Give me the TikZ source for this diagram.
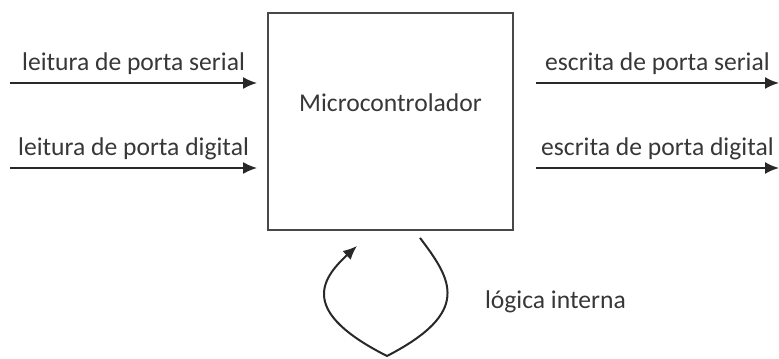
\documentclass[tikz,border=0pt]{standalone}
\usepackage{fontspec}
\setmainfont{Carlito}
\usetikzlibrary{arrows.meta}
\definecolor{linegrey}{RGB}{40, 40, 40}
\definecolor{textgrey}{RGB}{55, 55, 55}

\tikzset{
  sig/.style={line width=1pt, draw=linegrey, -{Latex[length=7pt, width=6pt]}},
  txt/.style={text=textgrey, font=\fontsize{12.8}{15}\selectfont},
  siglabel/.style={txt, above=2.5pt, midway, inner sep=1pt},
  mcubox/.style={draw=linegrey!85, line width=0.9pt, minimum width=122.5pt, minimum height=108.5pt}
}

\begin{document}
\begin{tikzpicture}[x=0.5pt, y=-0.5pt]
        \useasboundingbox (0,0) rectangle (779,358);

        \node[mcubox] (mcu) at (390.5,121.5) {};
        \node[txt] (mcutxt) at (390.5,103) {Microcontrolador};

        % inputs
        \coordinate (inS) at (10,83);
        \coordinate (inD) at (10,168);
        \draw[sig] (inS) -- ([xshift=-5pt]mcu.west |- inS)
          node[siglabel] {leitura de porta serial};
        \draw[sig] (inD) -- ([xshift=-5pt]mcu.west |- inD)
          node[siglabel] {leitura de porta digital};

        % outputs
        \coordinate (outS) at (779,83);
        \coordinate (outD) at (779,168);
        \draw[sig] ([xshift=11pt]mcu.east |- outS) -- (outS)
          node[siglabel] {escrita de porta serial};
        \draw[sig] ([xshift=11pt]mcu.east |- outD) -- (outD)
          node[siglabel] {escrita de porta digital};

        % feedback loop
        \coordinate (loopA) at ([shift={(29.5,7)}]mcu.south);
        \coordinate (loopB) at ([shift={(-33.5,15)}]mcu.south);
        \coordinate (loopC) at (387,356);
        \draw[sig] (loopA) .. controls (452,280) and (472,312) .. (loopC)
          .. controls (300,312) and (320,280) .. (loopB);
        \node[txt, anchor=west] (loopTxt) at (478,302) {lógica interna};
      \end{tikzpicture}
\end{document}
